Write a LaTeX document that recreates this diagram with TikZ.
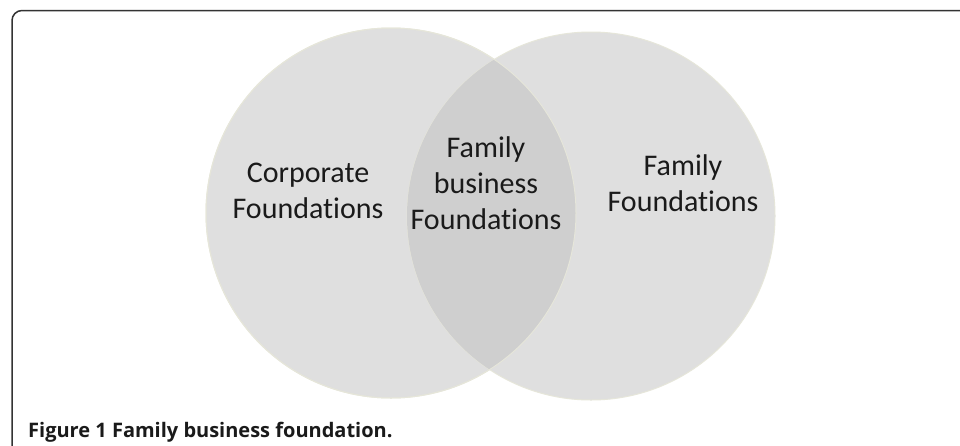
\documentclass[tikz,border=0pt]{standalone}
\usepackage{fontspec}
\setmainfont{Carlito}[RawFeature={-liga;-clig}]
\newfontfamily\capfont{Open Sans}
\definecolor{circfill}{HTML}{DFDFDF}
\definecolor{overlapfill}{HTML}{CFCFCF}
\definecolor{rimcol}{HTML}{E6E6DA}
\definecolor{txtcol}{HTML}{1A1A1A}
\definecolor{framecol}{HTML}{333333}
\tikzset{
  setlabel/.style={align=center, font=\fontsize{30}{36}\selectfont, text=txtcol, inner sep=0pt, anchor=base},
  venncircle/.style={fill=circfill, draw=rimcol, line width=1pt},
}
\begin{document}
\begin{tikzpicture}[x=1pt,y=-1pt]
\useasboundingbox (0,0) rectangle (960,445);
\fill[white] (0,0) rectangle (960,445);
\draw[framecol, line width=1.5pt, rounded corners=10pt] (12,446) -- (12,10.5) -- (961,10.5);
\node[venncircle, circle, minimum size=370pt, inner sep=0pt] (left) at (391,213) {};
\node[venncircle, circle, minimum size=368pt, inner sep=0pt] (right) at (591,216) {};
\begin{scope}
  \clip (391,213) circle (185);
  \fill[overlapfill] (591,216) circle (184);
\end{scope}
\draw[rimcol, line width=1pt] (391,213) circle (185);
\node[setlabel] (corp) at (308,218) {Corporate\\Foundations};
\node[setlabel] (fbf) at (486,229) {Family\\business\\Foundations};
\node[setlabel] (fam) at (683,211) {Family\\Foundations};
\node[anchor=base west, inner sep=0pt, font=\capfont\bfseries\fontsize{20}{24}\selectfont, text=txtcol] (caption) at (28,437) {Figure 1 Family business foundation.};
\end{tikzpicture}
\end{document}
